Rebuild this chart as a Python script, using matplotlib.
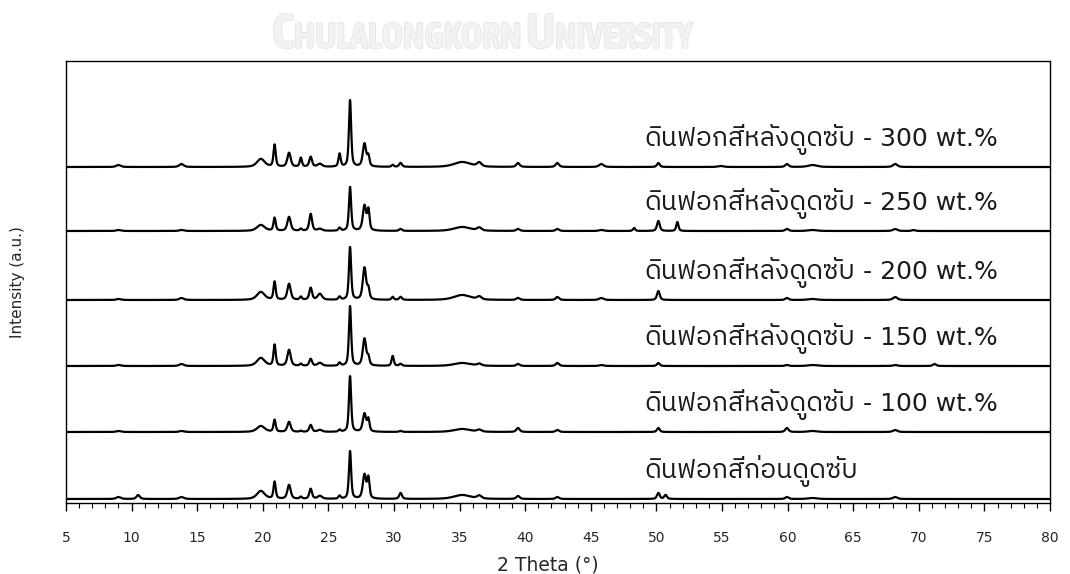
import numpy as np
import matplotlib
matplotlib.use("Agg")
import matplotlib.pyplot as plt
import matplotlib.patheffects as pe
from matplotlib import font_manager
from matplotlib.ticker import MultipleLocator

# ---- data -------------------------------------------------------------
two_theta_min, two_theta_max = 5, 80

# reflection positions (2θ, deg) and widths (FWHM, deg)
peak_pos = [9.0, 10.5, 13.8, 19.85, 20.9, 22.0, 22.9, 23.65, 24.35, 25.85,
            26.65, 27.75, 28.05, 29.9, 30.5, 35.2, 36.5, 39.45, 42.45, 45.8,
            48.3, 50.15, 50.7, 51.6, 54.9, 59.95, 61.9, 68.2, 69.6, 71.2]
peak_fwhm = [0.4, 0.3, 0.4, 0.7, 0.2, 0.3, 0.2, 0.25, 0.4, 0.2,
             0.2, 0.3, 0.2, 0.2, 0.25, 1.5, 0.4, 0.3, 0.3, 0.4,
             0.2, 0.25, 0.25, 0.2, 0.5, 0.3, 0.8, 0.4, 0.3, 0.3]

# peak intensities (a.u.) for each sample
int_300 = [2, 0, 3, 8, 22, 14, 9, 10, 3, 13, 67, 23, 10, 2, 4, 5, 4, 4, 4, 3,
           0, 4, 0, 0, 1, 3, 2, 3, 0, 0]
int_250 = [1, 0, 1, 6, 13, 14, 2, 17, 2, 3, 44, 25, 20, 0, 2, 4, 3, 2, 2, 1,
           3, 10, 0, 9, 0, 2, 1, 2, 1, 0]
int_200 = [1, 0, 2, 8, 18, 16, 3, 12, 6, 3, 53, 32, 10, 3, 3, 5, 3, 2, 3, 2,
           0, 9, 0, 0, 0, 2, 1, 3, 0, 0]
int_150 = [1, 0, 2, 8, 21, 16, 2, 7, 3, 3, 60, 27, 8, 10, 2, 3, 2, 2, 3, 1,
           0, 3, 0, 0, 0, 1, 1, 1, 0, 2]
int_100 = [1, 0, 1, 6, 12, 10, 1, 7, 2, 2, 56, 18, 12, 0, 1, 3, 2, 4, 2, 0,
           0, 4, 0, 0, 0, 4, 1, 2, 0, 0]
int_raw = [2, 4, 2, 8, 17, 14, 2, 10, 3, 3, 48, 24, 20, 0, 6, 4, 3, 3, 2, 0,
           0, 6, 4, 0, 0, 2, 1, 2, 0, 0]

# sample names (Thai part) and loading (Latin part)
names_th = ["ดินฟอกสีก่อนดูดซับ",
            "ดินฟอกสีหลังดูดซับ",
            "ดินฟอกสีหลังดูดซับ",
            "ดินฟอกสีหลังดูดซับ",
            "ดินฟอกสีหลังดูดซับ",
            "ดินฟอกสีหลังดูดซับ"]
loadings = ["", " - 100 wt.%", " - 150 wt.%", " - 200 wt.%",
            " - 250 wt.%", " - 300 wt.%"]
intensities = [int_raw, int_100, int_150, int_200, int_250, int_300]
offsets = [0, 67, 133, 199, 268, 332]

x_ticks = list(range(5, 81, 5))

# ---- fonts ------------------------------------------------------------
avail = set(f.name for f in font_manager.fontManager.ttflist)
thai_font = next((f for f in ["IBM Plex Sans Thai", "Noto Sans Thai"]
                  if f in avail), "DejaVu Sans")
plt.rcParams["font.family"] = ["DejaVu Sans"]


# ---- profile ----------------------------------------------------------
def pattern(x, heights, eta=0.55):
    y = np.zeros_like(x)
    for p, w, h in zip(peak_pos, peak_fwhm, heights):
        if h == 0:
            continue
        g = np.exp(-4 * np.log(2) * ((x - p) / w) ** 2)
        lo = 1.0 / (1.0 + 4 * ((x - p) / w) ** 2)
        y += h * (eta * lo + (1 - eta) * g)
    return y


x = np.arange(two_theta_min, two_theta_max + 1e-9, 0.02)

fig = plt.figure(figsize=(10.70, 5.74), dpi=100)
ax = fig.add_axes([66 / 1070, 71 / 574, 984 / 1070, 442 / 574])

for heights, off, name, load in zip(intensities, offsets, names_th, loadings):
    ax.plot(x, pattern(x, heights) + off, color="black", lw=1.6)
    t = ax.text(49.1, off + 21, name, family=[thai_font, "DejaVu Sans"],
                fontsize=19, va="baseline", ha="left", color="#1a1a1a")
    if load:
        ax.annotate(load, xy=(1, off + 21), xycoords=(t, "data"),
                    family=["DejaVu Sans"], fontsize=18,
                    va="baseline", ha="left", color="#1a1a1a")

ax.set_xlim(two_theta_min, two_theta_max)
ax.set_ylim(-4, 438)
ax.set_xticks(x_ticks)
ax.xaxis.set_minor_locator(MultipleLocator(1))
ax.set_yticks([])
ax.tick_params(axis="x", which="major", direction="out", length=6,
               width=1.0, pad=14, labelsize=10, labelcolor="#262626")
ax.tick_params(axis="x", which="minor", direction="out", length=3.5,
               width=0.8)
for s in ax.spines.values():
    s.set_linewidth(1.0)

ax.set_xlabel("2 Theta (°)", fontsize=13.5, color="#262626")
ax.xaxis.set_label_coords(0.49, -0.118)
ax.set_ylabel("Intensity (a.u.)", fontsize=11, color="#262626")
ax.yaxis.set_label_coords(-0.0417, 0.5)

# faint header mark above the frame
wm_fill = "#f2f2f2"
wm_edge = "#e2e2e2"
wm_family = ["Asap Condensed", "DejaVu Sans"]
wm_base = 1 - 48 / 574
wm_fx = [pe.withStroke(linewidth=1.0, foreground=wm_edge)]
parts = [("C", 35), ("HULALONGKORN ", 26), ("U", 35), ("NIVERSITY", 26)]
anchor = fig.text(272 / 1070, wm_base, parts[0][0], fontsize=parts[0][1],
                  family=wm_family, weight="bold", color=wm_fill,
                  va="baseline", ha="left", path_effects=wm_fx)
for txt, size in parts[1:]:
    anchor = ax.annotate(txt, xy=(1, wm_base),
                         xycoords=(anchor, "figure fraction"),
                         fontsize=size, family=wm_family, weight="bold",
                         color=wm_fill, va="baseline", ha="left",
                         annotation_clip=False, path_effects=wm_fx)

fig.savefig("out.png", dpi=100)
